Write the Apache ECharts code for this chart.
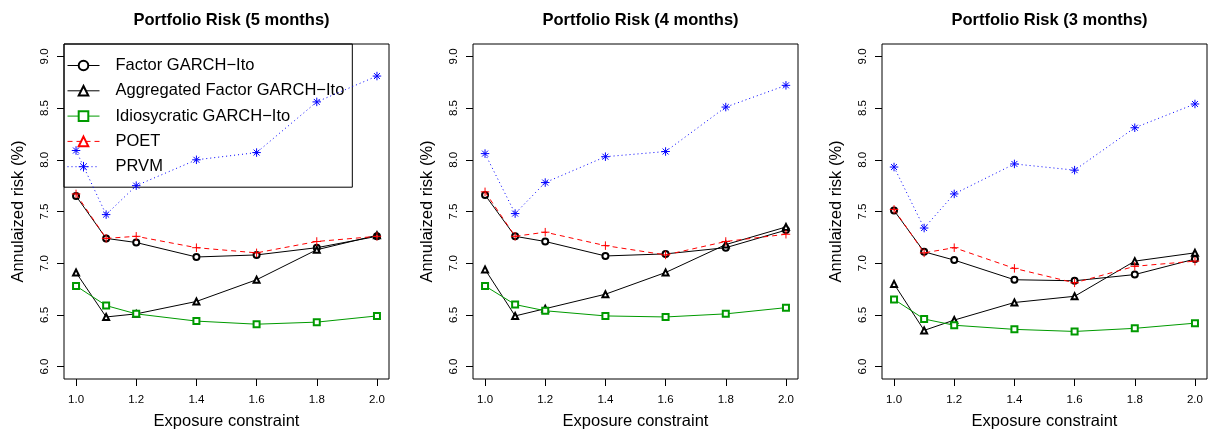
<!DOCTYPE html>
<html>
<head>
<meta charset="utf-8">
<script src="https://cdn.jsdelivr.net/npm/echarts@6/dist/echarts.min.js"></script>
<style>
html,body{margin:0;padding:0;background:#fff;}
#chart{width:1210px;height:436px;}
</style>
</head>
<body>
<div id="chart"></div>
<script>
// ---------------- data ----------------
const xValues = [1.0, 1.1, 1.2, 1.4, 1.6, 1.8, 2.0];
const xTicks = [1.0, 1.2, 1.4, 1.6, 1.8, 2.0];
const yTicks = [6.0, 6.5, 7.0, 7.5, 8.0, 8.5, 9.0];
const panelTitles = ['Portfolio Risk (5 months)', 'Portfolio Risk (4 months)', 'Portfolio Risk (3 months)'];
const methodNames = ['Factor GARCH\u2212Ito', 'Aggregated Factor GARCH\u2212Ito', 'Idiosycratic GARCH\u2212Ito', 'POET', 'PRVM'];
const xAxisTitle = 'Exposure constraint';
const yAxisTitle = 'Annulaized risk (%)';

// 5 months
const factor5     = [7.65, 7.24, 7.20, 7.06, 7.08, 7.15, 7.26];
const aggregated5 = [6.91, 6.48, 6.51, 6.63, 6.84, 7.13, 7.27];
const idio5       = [6.78, 6.59, 6.51, 6.44, 6.41, 6.43, 6.49];
const poet5       = [7.67, 7.24, 7.26, 7.15, 7.10, 7.21, 7.26];
const prvm5       = [8.09, 7.47, 7.75, 8.00, 8.07, 8.56, 8.81];
// 4 months
const factor4     = [7.66, 7.26, 7.21, 7.07, 7.09, 7.15, 7.32];
const aggregated4 = [6.94, 6.49, 6.56, 6.70, 6.91, 7.18, 7.35];
const idio4       = [6.78, 6.60, 6.54, 6.49, 6.48, 6.51, 6.57];
const poet4       = [7.69, 7.26, 7.30, 7.17, 7.08, 7.21, 7.28];
const prvm4       = [8.06, 7.48, 7.78, 8.03, 8.08, 8.51, 8.72];
// 3 months
const factor3     = [7.51, 7.11, 7.03, 6.84, 6.83, 6.89, 7.04];
const aggregated3 = [6.80, 6.35, 6.45, 6.62, 6.68, 7.02, 7.10];
const idio3       = [6.65, 6.46, 6.40, 6.36, 6.34, 6.37, 6.42];
const poet3       = [7.52, 7.10, 7.15, 6.95, 6.81, 6.97, 7.02];
const prvm3       = [7.93, 7.34, 7.67, 7.96, 7.90, 8.31, 8.54];

const panels = [
  [factor5, aggregated5, idio5, poet5, prvm5],
  [factor4, aggregated4, idio4, poet4, prvm4],
  [factor3, aggregated3, idio3, poet3, prvm3]
];

// ---------------- styling ----------------
const FONT = '"Liberation Sans", Arial, Helvetica, sans-serif';
const GREEN = '#009a00';
const plusPath = 'path://M0,5L10,5M5,0L5,10';
const starPath = 'path://M5,0L5,10M0,5L10,5M1.5,1.5L8.5,8.5M8.5,1.5L1.5,8.5';
const styles = [
  {color: '#000', symbol: 'emptyCircle', size: 6, type: 'solid'},
  {color: '#000', symbol: 'emptyTriangle', size: 6, type: 'solid'},
  {color: GREEN, symbol: 'emptyRect', size: 6, type: 'solid'},
  {color: '#ff0000', symbol: 'emptyTriangle', pointSymbol: plusPath, size: 8.5, type: [5, 4]},
  {color: '#0000ff', symbol: starPath, size: 8.5, type: [1, 3]}
];

const grids = [
  {left: 64, top: 44, width: 325, height: 335},
  {left: 473, top: 44, width: 325, height: 335},
  {left: 882, top: 44, width: 325, height: 335}
];

const option = {
  animation: false,
  backgroundColor: '#fff',
  textStyle: {fontFamily: FONT},
  title: panelTitles.map((t, i) => ({
    text: t,
    left: grids[i].left + grids[i].width / 2,
    top: 7,
    textAlign: 'center',
    textStyle: {fontFamily: FONT, fontWeight: 'bold', fontSize: 16.5, color: '#000'}
  })),
  legend: {
    data: methodNames,
    orient: 'vertical',
    left: 64,
    top: 44,
    padding: [13, 8, 12, 3],
    itemWidth: 32,
    itemHeight: 12,
    itemGap: 8.3,
    borderColor: '#000',
    borderWidth: 1,
    backgroundColor: 'transparent',
    selectedMode: false,
    lineStyle: {width: 1},
    itemStyle: {borderWidth: 1},
    textStyle: {fontFamily: FONT, fontSize: 16.5, color: '#000', lineHeight: 12, padding: [0, 0, 0, 11]}
  },
  grid: grids.map(g => Object.assign({show: true, borderColor: '#000', borderWidth: 1, backgroundColor: 'transparent'}, g)),
  xAxis: grids.map((g, i) => ({
    type: 'value',
    gridIndex: i,
    min: 0.96,
    max: 2.04,
    name: xAxisTitle,
    nameLocation: 'middle',
    nameGap: 34,
    nameTextStyle: {fontFamily: FONT, fontSize: 16.5, color: '#000'},
    axisLine: {show: false},
    splitLine: {show: false},
    axisTick: {show: true, length: 7, lineStyle: {color: '#000'}, customValues: xTicks},
    axisLabel: {color: '#000', fontSize: 11.5, fontFamily: FONT, margin: 15, customValues: xTicks,
      formatter: v => v.toFixed(1)}
  })),
  yAxis: grids.map((g, i) => ({
    type: 'value',
    gridIndex: i,
    min: 5.88,
    max: 9.12,
    name: yAxisTitle,
    nameLocation: 'middle',
    nameGap: 37,
    nameTextStyle: {fontFamily: FONT, fontSize: 16.5, color: '#000'},
    axisLine: {show: false},
    splitLine: {show: false},
    axisTick: {show: true, length: 7, lineStyle: {color: '#000'}, customValues: yTicks},
    axisLabel: {color: '#000', fontSize: 11.5, fontFamily: FONT, margin: 13, rotate: 90, customValues: yTicks,
      formatter: v => v.toFixed(1)}
  })),
  series: []
};

panels.forEach((arrs, p) => {
  arrs.forEach((arr, k) => {
    const st = styles[k];
    option.series.push({
      name: methodNames[k],
      type: 'line',
      xAxisIndex: p,
      yAxisIndex: p,
      symbol: st.symbol,
      symbolSize: st.size,
      showAllSymbol: true,
      lineStyle: {color: st.color, width: 1, type: st.type},
      itemStyle: {color: st.color, borderColor: st.color, borderWidth: 1},
      emphasis: {disabled: true},
      z: 2 + k,
      data: xValues.map((x, j) => st.pointSymbol
        ? {value: [x, arr[j]], symbol: st.pointSymbol}
        : [x, arr[j]])
    });
  });
});

const chart = echarts.init(document.getElementById('chart'), null, {renderer: 'canvas'});
chart.setOption(option);
</script>
</body>
</html>
